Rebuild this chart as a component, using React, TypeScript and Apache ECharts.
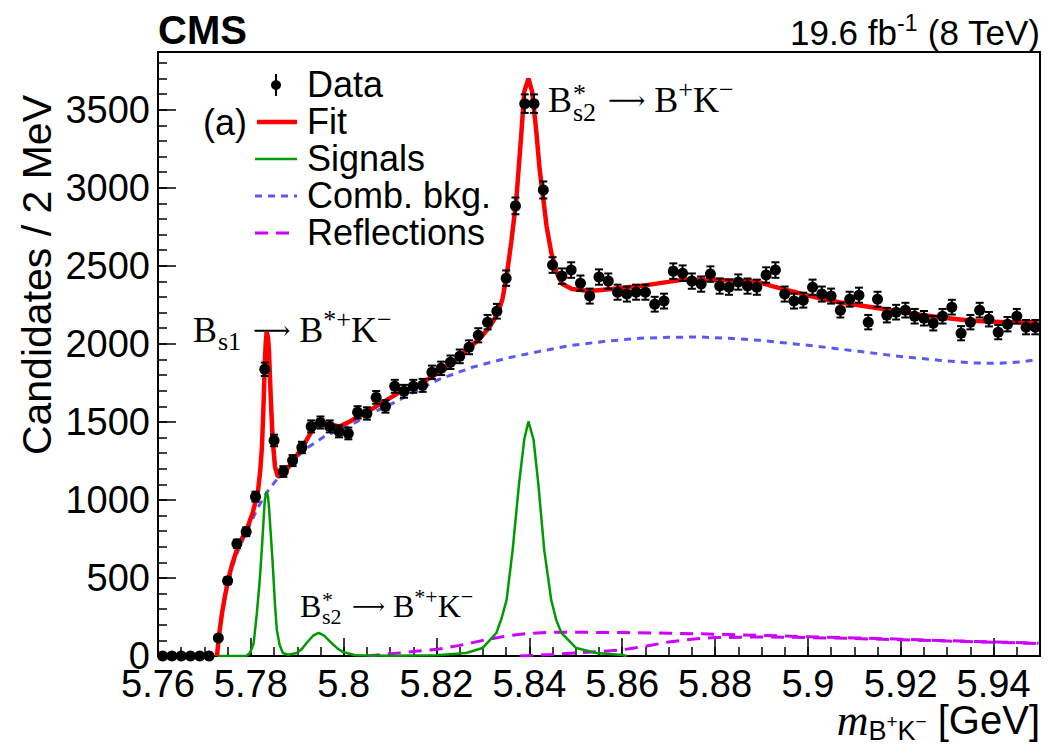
import React, { useEffect, useRef } from "react";
import * as echarts from "echarts";

// ---------------- data ----------------
const binCenters = [
  5.761, 5.763, 5.765, 5.767, 5.769, 5.771, 5.773, 5.775, 5.777, 5.779,
  5.781, 5.783, 5.785, 5.787, 5.789, 5.791, 5.793, 5.795, 5.797, 5.799,
  5.801, 5.803, 5.805, 5.807, 5.809, 5.811, 5.813, 5.815, 5.817, 5.819,
  5.821, 5.823, 5.825, 5.827, 5.829, 5.831, 5.833, 5.835, 5.837, 5.839,
  5.841, 5.843, 5.845, 5.847, 5.849, 5.851, 5.853, 5.855, 5.857, 5.859,
  5.861, 5.863, 5.865, 5.867, 5.869, 5.871, 5.873, 5.875, 5.877, 5.879,
  5.881, 5.883, 5.885, 5.887, 5.889, 5.891, 5.893, 5.895, 5.897, 5.899,
  5.901, 5.903, 5.905, 5.907, 5.909, 5.911, 5.913, 5.915, 5.917, 5.919,
  5.921, 5.923, 5.925, 5.927, 5.929, 5.931, 5.933, 5.935, 5.937, 5.939,
  5.941, 5.943, 5.945, 5.947, 5.949,
];

const counts = [
  0, 0, 0, 0, 0, 0, 115, 482, 719, 796,
  1021, 1837, 1381, 1182, 1252, 1336, 1471, 1496, 1471, 1439,
  1426, 1561, 1554, 1657, 1599, 1728, 1696, 1728, 1734, 1818,
  1843, 1882, 1920, 1978, 2055, 2139, 2209, 2421, 2884, 3539,
  3539, 2986, 2505, 2434, 2473, 2389, 2306, 2428, 2402, 2331,
  2319, 2331, 2331, 2254, 2274, 2466, 2453, 2402, 2383, 2447,
  2370, 2363, 2396, 2370, 2363, 2441, 2473, 2319, 2274, 2280,
  2363, 2319, 2306, 2216, 2286, 2312, 2139, 2286, 2184, 2203,
  2216, 2177, 2164, 2132, 2177, 2235, 2068, 2139, 2216, 2158,
  2075, 2126, 2177, 2107, 2107,
];

const fitCurve = [
  [5.7727, 0], [5.7729, 60], [5.7733, 167], [5.7738, 276], [5.7744, 379],
  [5.7751, 488], [5.776, 590], [5.7772, 700], [5.7782, 760], [5.7791, 809],
  [5.7804, 918], [5.7815, 1047], [5.782, 1180], [5.7824, 1342], [5.7826, 1500],
  [5.7828, 1663], [5.783, 1870], [5.7832, 2000], [5.7834, 2075], [5.7837, 2040],
  [5.7839, 1960], [5.7841, 1800], [5.7843, 1650], [5.7847, 1387], [5.7852, 1214],
  [5.7858, 1150], [5.7869, 1162], [5.789, 1246], [5.7912, 1342], [5.7933, 1451],
  [5.7948, 1496], [5.797, 1484], [5.7991, 1471], [5.8013, 1503], [5.8049, 1561],
  [5.8084, 1625], [5.812, 1689], [5.8157, 1728], [5.8191, 1792], [5.8228, 1856],
  [5.8249, 1914], [5.827, 1975], [5.8292, 2030], [5.8314, 2107], [5.8331, 2190],
  [5.8342, 2286], [5.8351, 2434], [5.8361, 2652], [5.8372, 2929], [5.8383, 3359],
  [5.8389, 3616], [5.8398, 3699], [5.8406, 3616], [5.8415, 3359], [5.8422, 3121],
  [5.843, 2929], [5.8437, 2755], [5.8447, 2588], [5.8458, 2460], [5.8471, 2383],
  [5.8492, 2351], [5.8529, 2338], [5.8578, 2351], [5.8637, 2370], [5.8729, 2410],
  [5.88, 2410], [5.8888, 2400], [5.8923, 2370], [5.9, 2310], [5.9067, 2267],
  [5.9138, 2235], [5.9211, 2200], [5.9282, 2171], [5.9353, 2148], [5.9426, 2139],
  [5.9497, 2139],
];

const signalCurve = [
  [5.7727, 0], [5.779, 0], [5.7798, 19], [5.7806, 80], [5.7813, 276],
  [5.7819, 480], [5.7824, 700], [5.7827, 850], [5.783, 1000], [5.7834, 1053],
  [5.7837, 1020], [5.7839, 957], [5.7843, 780], [5.7847, 597], [5.7852, 330],
  [5.7856, 167], [5.7862, 70], [5.7869, 19], [5.788, 8], [5.7899, 19],
  [5.791, 45], [5.792, 83], [5.7934, 130], [5.7946, 148], [5.7958, 130],
  [5.7974, 83], [5.7986, 50], [5.7998, 26], [5.8025, 5], [5.81, 2],
  [5.82, 5], [5.8264, 19], [5.8299, 51], [5.8329, 148], [5.834, 240],
  [5.8351, 360], [5.8364, 680], [5.8378, 1111], [5.8389, 1387], [5.8398, 1503],
  [5.8409, 1387], [5.8419, 1111], [5.8432, 680], [5.8447, 360], [5.8458, 230],
  [5.8469, 148], [5.8501, 51], [5.8544, 19], [5.86, 6], [5.861, 0],
];

const combBkgCurve = [
  [5.7727, 0], [5.7733, 167], [5.7738, 270], [5.7744, 370], [5.7751, 470],
  [5.776, 570], [5.7772, 670], [5.7791, 800], [5.7804, 880], [5.7815, 950],
  [5.7834, 1047], [5.7858, 1140], [5.7869, 1170], [5.789, 1250], [5.792, 1330],
  [5.796, 1410], [5.8013, 1475], [5.806, 1555], [5.811, 1625], [5.816, 1705],
  [5.8206, 1773], [5.8277, 1850], [5.8351, 1908], [5.8422, 1952], [5.8492, 1991],
  [5.8566, 2017], [5.8637, 2036], [5.87, 2042], [5.8766, 2044], [5.883, 2036],
  [5.8895, 2023], [5.9, 1991], [5.911, 1952], [5.9196, 1920], [5.9282, 1895],
  [5.9357, 1878], [5.9411, 1875], [5.946, 1885], [5.9497, 1901],
];

const reflectionCurveA = [
  [5.805, 0], [5.808, 8], [5.812, 20], [5.816, 32], [5.8206, 45],
  [5.825, 68], [5.83, 100], [5.835, 128], [5.84, 145], [5.845, 152],
  [5.85, 152], [5.86, 150], [5.87, 146], [5.88, 140], [5.89, 132],
  [5.9, 124], [5.91, 116], [5.92, 108], [5.93, 98], [5.94, 90], [5.9497, 82],
];

const reflectionCurveB = [
  [5.838, 0], [5.845, 10], [5.85, 19], [5.856, 30], [5.86, 40],
  [5.865, 62], [5.87, 90], [5.875, 108], [5.88, 118], [5.89, 122],
  [5.9, 118], [5.91, 112], [5.92, 104], [5.93, 96], [5.94, 88], [5.9497, 80],
];

const legendLabels = ["Data", "Fit", "Signals", "Comb. bkg.", "Reflections"];

// ---------------- styling ----------------
const SANS = "'Liberation Sans', Arial, Helvetica, sans-serif";
const SERIF = "'Liberation Serif', 'Times New Roman', Times, serif";
const ARROWFONT = "'DejaVu Serif', 'DejaVu Sans', serif";
const RED = "#ff0000";
const GREEN = "#009a00";
const BLUE = "#5a5af0";
const MAGENTA = "#cc00ff";

const GRID = { left: 158, top: 52, width: 882, height: 604 };

function annotation(
  x: number,
  y: number,
  big: number,
  small: number,
  supStar: boolean,
  sub: string,
  rest: string
) {
  const els: any[] = [
    {
      type: "text",
      x,
      y,
      style: { text: "B", font: `${big}px ${SERIF}`, fill: "#000", textVerticalAlign: "middle" },
    },
  ];
  const subX = x + Math.round(big * 0.67) + 1;
  const L = Math.round(big * 0.53);
  if (supStar) {
    els.push({
      type: "text",
      x: subX,
      y: y + Math.round(big * 0.07),
      style: {
        text: "{u|*}\n{d|" + sub + "}",
        textVerticalAlign: "middle",
        rich: {
          u: { fontSize: small, fontFamily: SERIF, fill: "#000", lineHeight: L },
          d: { fontSize: small, fontFamily: SERIF, fill: "#000", lineHeight: L },
        },
      },
    });
  } else {
    els.push({
      type: "text",
      x: subX,
      y: y + Math.round(big * 0.3),
      style: { text: sub, font: `${small}px ${SERIF}`, fill: "#000", textVerticalAlign: "middle" },
    });
  }
  const restX = subX + Math.round(small * 0.92) + 2;
  els.push({
    type: "text",
    x: restX,
    y,
    style: {
      text: rest,
      fill: "#000",
      textVerticalAlign: "middle",
      rich: {
        n: { fontSize: big, fontFamily: SERIF, fill: "#000" },
        a: { fontSize: Math.round(big * 0.72), fontFamily: ARROWFONT, fill: "#000" },
        p: { fontSize: small, fontFamily: SERIF, fill: "#000", padding: [0, 0, Math.round(big * 0.6), 0] },
      },
    },
  });
  return els;
}

export default function App() {
  const ref = useRef<HTMLDivElement>(null);

  useEffect(() => {
    if (!ref.current) return;
    const chart = echarts.init(ref.current, null, { renderer: "svg" });

    const dataPoints = binCenters.map((x, i) => [x, counts[i]]);
    const errData = binCenters.map((x, i) => [x, counts[i], Math.sqrt(counts[i])]);

    const axisLabelStyle = {
      fontSize: 38,
      color: "#000",
      fontFamily: SANS,
    };

    const legendX1 = 255;
    const legendX2 = 297;
    const legendTextX = 307;
    const legendY = [84, 121, 158, 195, 232];

    const legendGraphics: any[] = [
      { type: "line", shape: { x1: 276, y1: 74, x2: 276, y2: 96 }, style: { stroke: "#000", lineWidth: 2 } },
      { type: "circle", shape: { cx: 276, cy: 85, r: 5 }, style: { fill: "#000" } },
      { type: "line", shape: { x1: legendX1 + 2, y1: 122, x2: legendX2, y2: 122 }, style: { stroke: RED, lineWidth: 4.5 } },
      { type: "line", shape: { x1: legendX1, y1: 159, x2: legendX2, y2: 159 }, style: { stroke: GREEN, lineWidth: 2.5 } },
      { type: "line", shape: { x1: legendX1, y1: 196, x2: legendX2, y2: 196 }, style: { stroke: BLUE, lineWidth: 3, lineDash: [7, 6] } },
      { type: "line", shape: { x1: legendX1, y1: 233, x2: legendX2, y2: 233 }, style: { stroke: MAGENTA, lineWidth: 3, lineDash: [13, 8] } },
      ...legendLabels.map((t, i) => ({
        type: "text",
        x: legendTextX,
        y: legendY[i],
        style: { text: t, font: `36px ${SANS}`, fill: "#000", textVerticalAlign: "middle" },
      })),
      {
        type: "text",
        x: 203,
        y: 122,
        style: { text: "(a)", font: `36px ${SANS}`, fill: "#000", textVerticalAlign: "middle" },
      },
    ];

    const option: any = {
      animation: false,
      backgroundColor: "#fff",
      textStyle: { fontFamily: SANS },
      grid: {
        ...GRID,
        show: true,
        borderColor: "#000",
        borderWidth: 2,
        backgroundColor: "transparent",
        containLabel: false,
      },
      xAxis: [
        {
          type: "value",
          min: 5.76,
          max: 5.95,
          interval: 0.02,
          position: "bottom",
          axisLine: { show: false },
          axisTick: { show: true, inside: true, length: 18, lineStyle: { color: "#000", width: 1.5 } },
          axisLabel: {
            ...axisLabelStyle,
            margin: 9,
            showMaxLabel: false,
            showMinLabel: true,
            formatter: (v: number) => String(Math.round(v * 1000) / 1000),
          },
          splitLine: { show: false },
        },
        {
          type: "value",
          min: 5.76,
          max: 5.95,
          interval: 0.005,
          position: "bottom",
          axisLine: { show: false },
          axisTick: { show: true, inside: true, length: 9, lineStyle: { color: "#000", width: 1.5 } },
          axisLabel: { show: false },
          splitLine: { show: false },
        },
      ],
      yAxis: [
        {
          type: "value",
          min: 0,
          max: 3870,
          interval: 500,
          position: "left",
          axisLine: { show: false },
          axisTick: { show: true, inside: true, length: 18, lineStyle: { color: "#000", width: 1.5 } },
          axisLabel: {
            ...axisLabelStyle,
            margin: 8,
            showMaxLabel: false,
            formatter: (v: number) => String(Math.round(v)),
          },
          splitLine: { show: false },
        },
        {
          type: "value",
          min: 0,
          max: 3870,
          interval: 100,
          position: "left",
          axisLine: { show: false },
          axisTick: { show: true, inside: true, length: 9, lineStyle: { color: "#000", width: 1.5 } },
          axisLabel: { show: false },
          splitLine: { show: false },
        },
      ],
      series: [
        {
          name: "Reflections",
          type: "line",
          data: reflectionCurveA,
          showSymbol: false,
          symbol: "none",
          lineStyle: { color: MAGENTA, width: 3, type: [13, 8] },
          z: 2,
        },
        {
          name: "Reflections",
          type: "line",
          data: reflectionCurveB,
          showSymbol: false,
          symbol: "none",
          lineStyle: { color: MAGENTA, width: 3, type: [13, 8] },
          z: 2,
        },
        {
          name: "Comb. bkg.",
          type: "line",
          data: combBkgCurve,
          showSymbol: false,
          symbol: "none",
          lineStyle: { color: BLUE, width: 3, type: [7, 6] },
          z: 2,
        },
        {
          name: "Signals",
          type: "line",
          data: signalCurve,
          showSymbol: false,
          symbol: "none",
          lineStyle: { color: GREEN, width: 2.5 },
          z: 2,
        },
        {
          name: "Fit",
          type: "line",
          data: fitCurve,
          showSymbol: false,
          symbol: "none",
          lineStyle: { color: RED, width: 4.5 },
          z: 3,
        },
        {
          name: "Data errors",
          type: "custom",
          data: errData,
          z: 4,
          renderItem: (params: any, api: any) => {
            const x = api.value(0);
            const y = api.value(1);
            const e = api.value(2);
            if (!(e > 0)) return null;
            const top = api.coord([x, y + e]);
            const bot = api.coord([x, y - e]);
            const cw = 4;
            const st = { stroke: "#000", lineWidth: 2 };
            return {
              type: "group",
              children: [
                { type: "line", shape: { x1: top[0], y1: top[1], x2: bot[0], y2: bot[1] }, style: st },
                { type: "line", shape: { x1: top[0] - cw, y1: top[1], x2: top[0] + cw, y2: top[1] }, style: st },
                { type: "line", shape: { x1: bot[0] - cw, y1: bot[1], x2: bot[0] + cw, y2: bot[1] }, style: st },
              ],
            };
          },
        },
        {
          name: "Data",
          type: "scatter",
          data: dataPoints,
          symbol: "circle",
          symbolSize: 11,
          itemStyle: { color: "#000", opacity: 1 },
          z: 5,
        },
      ],
      graphic: [
        {
          type: "text",
          x: 158,
          y: 30,
          style: { text: "CMS", font: `bold 40px ${SANS}`, fill: "#000", textVerticalAlign: "middle" },
        },
        {
          type: "text",
          x: 1040,
          y: 32,
          style: {
            text: "{a|19.6 fb}{s|-1}{a| (8 TeV)}",
            textAlign: "right",
            textVerticalAlign: "middle",
            rich: {
              a: { fontSize: 35, fontFamily: SANS, fill: "#000" },
              s: { fontSize: 23, fontFamily: SANS, fill: "#000", padding: [0, 0, 18, 0] },
            },
          },
        },
        {
          type: "text",
          x: 37,
          y: 95,
          rotation: Math.PI / 2,
          style: {
            text: "Candidates / 2 MeV",
            font: `41px ${SANS}`,
            fill: "#000",
            textAlign: "right",
            textVerticalAlign: "middle",
          },
        },
        {
          type: "text",
          x: 1040,
          y: 720,
          style: {
            text: "{m|m}{b|B}{bs|+}{b|K}{bs|\u2212}{g| [GeV]}",
            textAlign: "right",
            textVerticalAlign: "middle",
            rich: {
              m: { fontSize: 44, fontFamily: SERIF, fontStyle: "italic", fill: "#000" },
              b: { fontSize: 27, fontFamily: SANS, fill: "#000", padding: [22, 0, 0, 0] },
              bs: { fontSize: 19, fontFamily: SANS, fill: "#000", padding: [2, 0, 0, 0] },
              g: { fontSize: 40, fontFamily: SANS, fill: "#000" },
            },
          },
        },
        ...annotation(548, 100, 36, 26, true, "s2", "{n| }{a|\u27F6}{n| B}{p|+}{n|K}{p|\u2212}"),
        ...annotation(193, 330, 36, 26, false, "s1", "{n| }{a|\u27F6}{n| B}{p|*+}{n|K}{p|\u2212}"),
        ...annotation(300, 606, 32, 22, true, "s2", "{n| }{a|\u27F6}{n| B}{p|*+}{n|K}{p|\u2212}"),
        ...legendGraphics,
      ],
    };

    chart.setOption(option);
    return () => chart.dispose();
  }, []);

  return (
    <div
      ref={ref}
      style={{ position: "absolute", left: 0, top: 0, width: 1055, height: 756 }}
    />
  );
}
